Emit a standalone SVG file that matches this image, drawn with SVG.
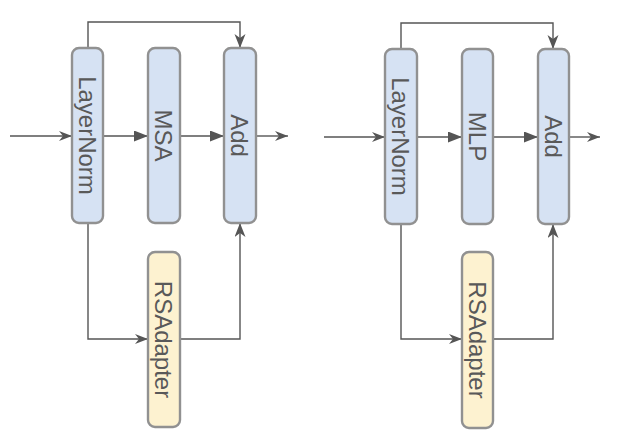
<svg xmlns="http://www.w3.org/2000/svg" width="623" height="447" viewBox="0 0 623 447">
<style>
.box{fill:#d6e2f3;stroke:#919191;stroke-width:2.4}
.ada{fill:#fdf2d0;stroke:#919191;stroke-width:2.4}
.lbl{font-family:"Liberation Sans",Arial,sans-serif;font-size:24px;fill:#595959;text-anchor:middle}
.c{fill:none;stroke:#555;stroke-width:1.4}
</style>
<defs>
<marker id="thin" markerUnits="userSpaceOnUse" markerWidth="14" markerHeight="12" refX="13" refY="5" orient="auto">
<path d="M0,0 L13,5 L0,10 L4,5 Z" fill="#555"/>
</marker>
<marker id="block" markerUnits="userSpaceOnUse" markerWidth="15" markerHeight="12" refX="14" refY="5.5" orient="auto">
<path d="M0,0 L14,5.5 L0,11 Z" fill="#555"/>
</marker>
<marker id="classic" markerUnits="userSpaceOnUse" markerWidth="15" markerHeight="12" refX="14" refY="5.5" orient="auto">
<path d="M0,0 L14,5.5 L0,11 L4,5.5 Z" fill="#555"/>
</marker>
</defs>
<g id="connectors">
<path class="c" d="M10,136 H72" marker-end="url(#thin)"/>
<path class="c" d="M103,136 H148" marker-end="url(#block)"/>
<path class="c" d="M180,136 H224" marker-end="url(#block)"/>
<path class="c" d="M256,136 H288" marker-end="url(#thin)"/>
<path class="c" d="M88,48 V22 H240 V48" marker-end="url(#classic)"/>
<path class="c" d="M88,223 V339 H148" marker-end="url(#thin)"/>
<path class="c" d="M180,339 H240 V223" marker-end="url(#classic)"/>
<path class="c" d="M324,137 H385" marker-end="url(#thin)"/>
<path class="c" d="M417,137 H462" marker-end="url(#block)"/>
<path class="c" d="M493,137 H538" marker-end="url(#block)"/>
<path class="c" d="M569,137 H600" marker-end="url(#thin)"/>
<path class="c" d="M401,49 V23 H553 V49" marker-end="url(#classic)"/>
<path class="c" d="M401,224 V339 H462" marker-end="url(#thin)"/>
<path class="c" d="M493,339 H553 V224" marker-end="url(#classic)"/>
</g>
<g id="ln1"><rect class="box" x="72" y="48" width="31" height="175" rx="7"/><text class="lbl" transform="translate(87.5,135.5) rotate(90)" y="8.6">LayerNorm</text></g>
<g id="msa"><rect class="box" x="148" y="48" width="32" height="175" rx="7"/><text class="lbl" transform="translate(164,135.5) rotate(90)" y="8.6">MSA</text></g>
<g id="add1"><rect class="box" x="224" y="48" width="32" height="175" rx="7"/><text class="lbl" transform="translate(240,135.5) rotate(90)" y="8.6">Add</text></g>
<g id="rsa1"><rect class="ada" x="148" y="252" width="32" height="175" rx="7"/><text class="lbl" transform="translate(164,339.5) rotate(90)" y="8.6">RSAdapter</text></g>
<g id="ln2"><rect class="box" x="385" y="49" width="32" height="175" rx="7"/><text class="lbl" transform="translate(401,136.5) rotate(90)" y="8.6">LayerNorm</text></g>
<g id="mlp"><rect class="box" x="462" y="49" width="31" height="175" rx="7"/><text class="lbl" transform="translate(477.5,136.5) rotate(90)" y="8.6">MLP</text></g>
<g id="add2"><rect class="box" x="538" y="49" width="31" height="175" rx="7"/><text class="lbl" transform="translate(553.5,136.5) rotate(90)" y="8.6">Add</text></g>
<g id="rsa2"><rect class="ada" x="462" y="252" width="31" height="176" rx="7"/><text class="lbl" transform="translate(477.5,340) rotate(90)" y="8.6">RSAdapter</text></g>
</svg>
